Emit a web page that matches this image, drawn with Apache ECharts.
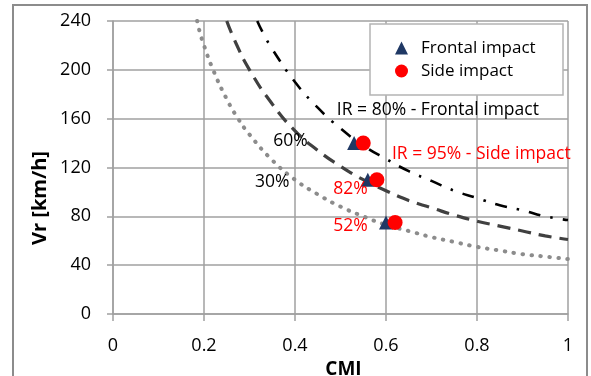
<!DOCTYPE html>
<html>
<head>
<meta charset="utf-8">
<script src="https://cdn.jsdelivr.net/npm/echarts@6/dist/echarts.min.js"></script>
<style>
  html, body { margin: 0; padding: 0; background: #fff; }
  #chart { width: 591px; height: 376px; }
</style>
</head>
<body>
<div id="chart"></div>
<script>
// curves: [CMI, Vr]
const ir30 = [[0.185, 240], [0.19, 232], [0.2, 220], [0.22, 200], [0.25, 176], [0.275, 160], [0.3, 147],
  [0.35, 126], [0.4, 110], [0.45, 98], [0.5, 88], [0.55, 80], [0.6, 73], [0.65, 68], [0.7, 63],
  [0.75, 59], [0.8, 55], [0.85, 52], [0.9, 49], [0.95, 47], [1.0, 45]]
const ir60 = [[0.25, 240], [0.27, 222], [0.3, 200], [0.35, 172], [0.4, 150], [0.45, 134], [0.5, 121],
  [0.55, 110], [0.6, 101], [0.65, 93], [0.7, 87], [0.75, 81], [0.8, 76], [0.85, 72], [0.9, 68],
  [0.95, 64], [1.0, 61]]
const ir80 = [[0.317, 240], [0.33, 230], [0.35, 217], [0.4, 190], [0.45, 169], [0.5, 152], [0.55, 138],
  [0.6, 127], [0.65, 117], [0.7, 109], [0.75, 101], [0.8, 95], [0.85, 89], [0.9, 85], [0.95, 80],
  [1.0, 77]]

const frontal = [[0.53, 140], [0.56, 110], [0.6, 75]]
const side = [[0.55, 140], [0.58, 110], [0.62, 75]]

// text notes: [CMI, Vr, text, colour]
const notes = [
  [0.492, 167, 'IR = 80% - Frontal impact', '#000'],
  [0.613, 131, 'IR = 95% - Side impact', '#ff0000'],
  [0.352, 142, '60%', '#000'],
  [0.312, 108, '30%', '#000'],
  [0.484, 102, '82%', '#ff0000'],
  [0.484, 72, '52%', '#ff0000'],
]

const font = 'Open Sans'
const gridColor = '#a0a0a0'

const chart = echarts.init(document.getElementById('chart'), null, { renderer: 'canvas' })

chart.setOption({
  animation: false,
  backgroundColor: '#fff',
  textStyle: { fontFamily: font },
  grid: { left: 113, right: 23, top: 21, bottom: 62, containLabel: false, outerBoundsMode: 'none' },
  graphic: [
    {
      type: 'rect',
      shape: { x: 13, y: 5, width: 574, height: 380 },
      style: { fill: null, stroke: '#8c8c8c', lineWidth: 2 },
      z: 0,
    },
    {
      // legend box
      type: 'rect',
      shape: { x: 370, y: 24, width: 193, height: 71 },
      style: { fill: '#fff', stroke: '#b4b4b4', lineWidth: 1.5 },
      z: 10,
    },
    {
      type: 'text',
      x: 40, y: 198,
      rotation: Math.PI / 2,
      style: {
        text: 'Vr [km/h]', fontFamily: font, fontSize: 20, fontWeight: 'bold',
        fill: '#000', align: 'center', verticalAlign: 'middle',
      },
    },
  ],
  legend: {
    data: [
      { name: 'Frontal impact', icon: 'triangle' },
      { name: 'Side impact', icon: 'circle' },
    ],
    orient: 'vertical',
    left: 370, top: 24,
    padding: [14, 10, 14, 25],
    itemWidth: 13, itemHeight: 13,
    itemGap: 3,
    z: 11,
    textStyle: { fontFamily: font, fontSize: 17, color: '#000', lineHeight: 20, padding: [0, 0, 0, 8] },
  },
  xAxis: {
    type: 'value',
    min: 0, max: 1, interval: 0.2,
    name: 'CMI',
    nameLocation: 'middle',
    nameGap: 38,
    nameTextStyle: { fontFamily: font, fontSize: 19, fontWeight: 'bold', color: '#000', padding: [0, 0, 0, 6] },
    axisLine: { lineStyle: { color: gridColor, width: 1.5 } },
    axisTick: { show: true, length: 7, lineStyle: { color: gridColor, width: 1.5 } },
    axisLabel: { fontFamily: font, fontSize: 18, color: '#000', margin: 23 },
    splitLine: { lineStyle: { color: gridColor, width: 1.5 } },
  },
  yAxis: {
    type: 'value',
    min: 0, max: 240, interval: 40,
    axisLine: { show: true, lineStyle: { color: gridColor, width: 1.5 } },
    axisTick: { show: true, length: 6, lineStyle: { color: gridColor, width: 1.5 } },
    axisLabel: { fontFamily: font, fontSize: 18, color: '#000', margin: 22 },
    splitLine: { lineStyle: { color: gridColor, width: 1.5 } },
  },
  series: [
    {
      name: 'IR 30%', type: 'line', data: ir30, smooth: true, showSymbol: false, silent: true,
      lineStyle: { color: '#8c8c8c', width: 4, type: [0.5, 8.5], cap: 'round' }, z: 2,
    },
    {
      name: 'IR 60%', type: 'line', data: ir60, smooth: true, showSymbol: false, silent: true,
      lineStyle: { color: '#404040', width: 3.2, type: [13, 8] }, z: 2,
    },
    {
      name: 'IR 80%', type: 'line', data: ir80, smooth: true, showSymbol: false, silent: true,
      lineStyle: { color: '#000', width: 2.6, type: [12, 10, 2.5, 10] }, z: 2,
    },
    {
      name: 'Frontal impact', type: 'scatter', data: frontal,
      symbol: 'triangle', symbolSize: 14,
      itemStyle: { color: '#1f3864', opacity: 1 }, z: 4,
    },
    {
      name: 'Side impact', type: 'scatter', data: side,
      symbol: 'circle', symbolSize: 15,
      itemStyle: { color: '#ff0000', opacity: 1 }, z: 5,
    },
    {
      name: 'notes', type: 'scatter', symbolSize: 0, silent: true, z: 6,
      itemStyle: { opacity: 1 },
      data: notes.map(n => ({
        value: [n[0], n[1]],
        label: {
          show: true, position: 'right', distance: 0, formatter: n[2],
          fontFamily: font, fontSize: 17.5, color: n[3], opacity: 1,
        },
      })),
    },
  ],
})
</script>
</body>
</html>
